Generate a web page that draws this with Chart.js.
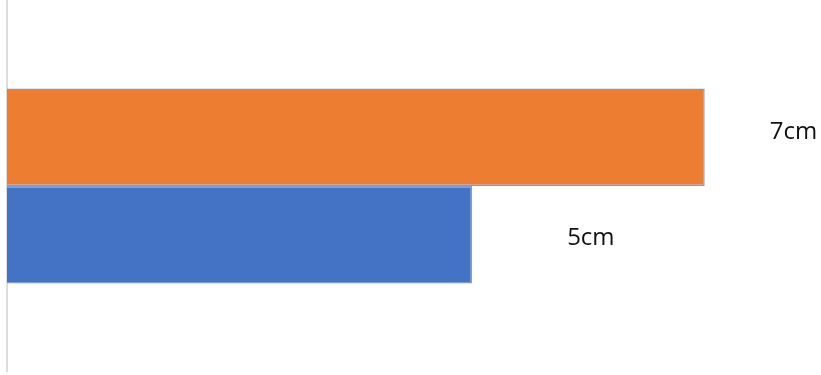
<!DOCTYPE html>
<html>
<head>
<meta charset="utf-8">
<script src="https://cdn.jsdelivr.net/npm/chart.js@4"></script>
<style>
  html, body { margin: 0; padding: 0; background: #fff; }
  #wrap { width: 821px; height: 375px; }
</style>
</head>
<body>
<div id="wrap"><canvas id="bar-chart"></canvas></div>
<script>
var categories = [""];
var lengths = [7, 5];
var valueLabels = ["7cm", "5cm"];
var barColors = ["#ED7D31", "#4472C4"];

// text next to each bar: offset from the bar end
var labelOffsets = [{ dx: 65, dy: -5 }, { dx: 95, dy: 3 }];

var barLabels = {
  id: 'barLabels',
  afterDatasetsDraw: function(chart) {
    var ctx = chart.ctx;
    ctx.save();
    ctx.font = '24px "Open Sans"';
    ctx.fillStyle = '#111';
    ctx.textAlign = 'left';
    ctx.textBaseline = 'middle';
    chart.data.datasets.forEach(function(ds, i) {
      var bar = chart.getDatasetMeta(i).data[0];
      ctx.fillText(valueLabels[i], bar.x + labelOffsets[i].dx, bar.y + labelOffsets[i].dy);
    });
    ctx.restore();
  }
};

new Chart(document.getElementById("bar-chart"), {
  type: 'bar',
  data: {
    labels: categories,
    datasets: lengths.map(function(v, i) {
      return {
        data: [v],
        label: valueLabels[i],
        backgroundColor: barColors[i],
        borderColor: "#7A9CDB",
        borderWidth: 1.5,
        borderSkipped: 'start',
        barPercentage: 1,
        categoryPercentage: 0.527
      };
    })
  },
  options: {
    indexAxis: 'y',
    responsive: true,
    maintainAspectRatio: false,
    animation: false,
    layout: { padding: { top: 1, bottom: 4, left: 0, right: 0 } },
    plugins: {
      legend: { display: false },
      tooltip: { enabled: false }
    },
    scales: {
      x: { display: false, min: 1, max: 8 },
      y: {
        display: true,
        grid: { display: false },
        ticks: { display: false },
        border: { display: true, color: "#DDDDDD", width: 2 },
        afterFit: function(s) { s.width = 7; }
      }
    }
  },
  plugins: [barLabels]
});
</script>
</body>
</html>
